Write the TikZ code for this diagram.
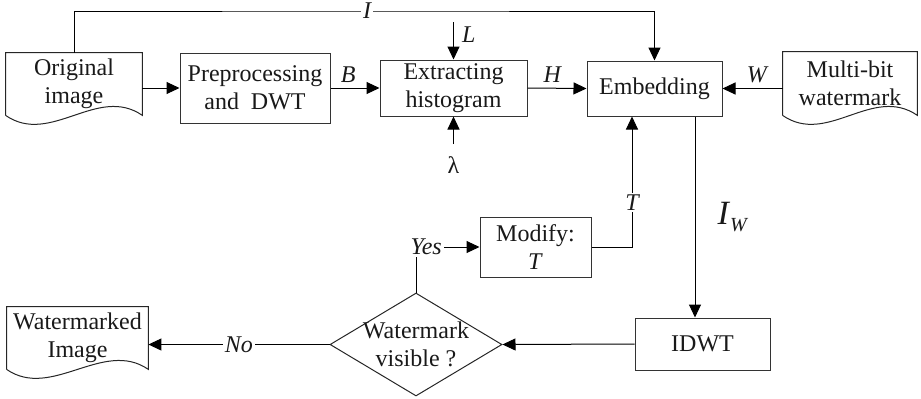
\documentclass[tikz,border=0pt]{standalone}
\usepackage{fontspec}
\setmainfont{Liberation Serif}
\usetikzlibrary{arrows.meta, shapes.geometric}

% wavy bottom of a document node
\newcommand\drawdoc[1]{%
  \draw[docline] (#1.south west) -- (#1.north west) -- (#1.north east) -- (#1.south east)
    .. controls ([shift={(-45,-31)}]#1.south east) and ([shift={(45,31)}]#1.south west) .. (#1.south west);}

\begin{document}
\begin{tikzpicture}[
  x=0.5pt, y=-0.5pt,
  every node/.style={font=\fontsize{12}{13.8}\selectfont, text=black!90},
  box/.style={rectangle, draw=black!80, line width=0.5pt, align=center, inner sep=1pt},
  doc/.style={rectangle, align=center, inner sep=1pt},
  docline/.style={draw=black!85, line width=0.5pt},
  dia/.style={diamond, draw=black!85, line width=0.5pt, inner sep=0pt},
  var/.style={font=\fontsize{12}{13.8}\selectfont\itshape, inner sep=1pt},
  lbl/.style={var, fill=white},
  arr/.style={-{Triangle[length=6.5pt, width=6pt]}, line width=0.5pt}
]
\useasboundingbox (0,0) rectangle (921,398);

% top row
\node[doc, minimum width=68pt, minimum height=31pt] (orig) at (74,84) {Original\\image};
\node[box, minimum width=75pt, minimum height=35pt] (pre) at (255,88) {Preprocessing\\and~ DWT};
\node[box, minimum width=73.5pt, minimum height=28pt] (ext) at (453.5,88) {Extracting\\histogram};
\node[box, minimum width=67.5pt, minimum height=27.5pt] (emb) at (654.5,88.5) {Embedding};
\node[doc, minimum width=67pt, minimum height=31.5pt] (wm) at (850,83.5) {Multi-bit\\watermark};

% bottom part
\node[box, minimum width=55.5pt, minimum height=30pt] (mod) at (535.5,247) {Modify:\\\textit{T}};
\node[box, minimum width=67.5pt, minimum height=26pt] (idwt) at (702.5,344) {IDWT};
\node[dia, minimum width=86pt, minimum height=51.5pt,
  label={[align=center]center:Watermark\\visible ?}] (dec) at (416,344.5) {};
\node[doc, minimum width=70.5pt, minimum height=31pt] (out) at (77.5,338) {Watermarked\\Image};

\drawdoc{orig}
\drawdoc{wm}
\drawdoc{out}

\coordinate (itop) at (367,11);
\coordinate (lsrc) at (453.5,22);
\node[inner ysep=6pt, inner xsep=1pt] (lam) at (453.5,165) {λ};

\draw[arr] (orig.north) |- (itop) node[lbl] {I} -| (emb.north);
\draw[arr] (orig.east |- pre.west) -- (pre.west);
\draw[arr] (pre.east) -- node[var, above=1.5pt, pos=0.36] {B} (ext.west);
\draw[arr] (lsrc) -- node[var, right=3pt, pos=0.34] {L} (ext.north);
\draw[arr] (lam.north) -- (ext.south);
\draw[arr] (ext.east) -- node[var, above=1.5pt, pos=0.42] {H} (emb.west);
\draw[arr] (wm.west |- emb.east) -- node[var, above=1.5pt, pos=0.43] {W} (emb.east);
\draw[arr] (mod.east) -| node[lbl, pos=0.67] {T} ([xshift=-11.25pt]emb.south);
\draw[arr] ([xshift=20.25pt]emb.south) coordinate (iw) --
  node[right=10pt, inner sep=1pt] {\fontsize{17}{18}\selectfont\textit{I}\raisebox{-0.4ex}{\fontsize{10}{12}\selectfont\textit{W}}} (iw |- idwt.north);
\draw[arr] (idwt.west) -- (dec.east);
\draw[arr] (dec.north) |- node[lbl, pos=0.58] {Yes} (mod.west);
\draw[arr] (dec.west) -- node[lbl] {No} (out.east |- dec.west);
\end{tikzpicture}
\end{document}
